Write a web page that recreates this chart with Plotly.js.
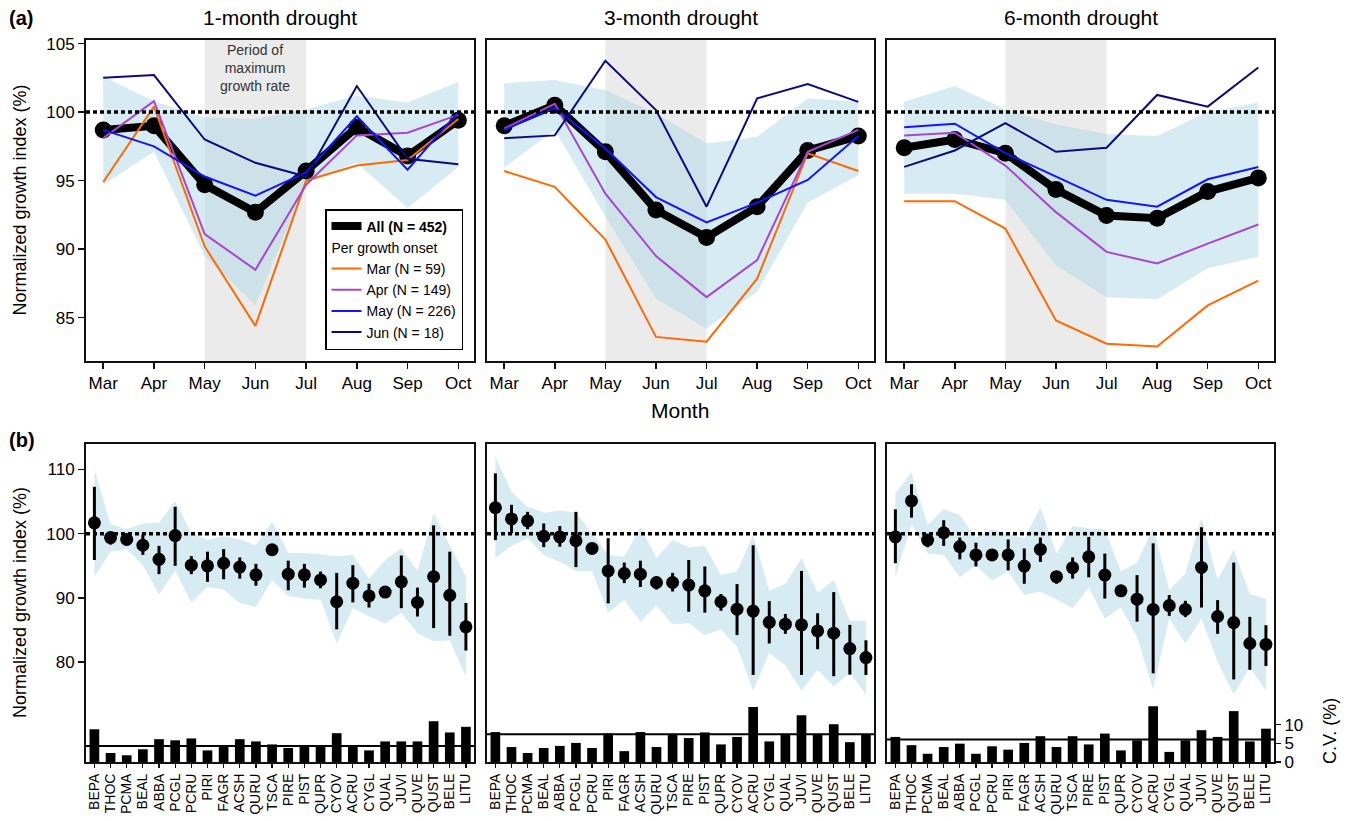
<!DOCTYPE html>
<html>
<head>
<meta charset="utf-8">
<script src="https://cdn.plot.ly/plotly-3.0.1.min.js"></script>
<style>html,body{margin:0;padding:0;background:#fff;}#chart{width:1349px;height:821px;}</style>
</head>
<body>
<div id="chart"></div>
<script>
// ---------- DATA ----------
const months = ['Mar','Apr','May','Jun','Jul','Aug','Sep','Oct'];
const panelTitles = ['1-month drought','3-month drought','6-month drought'];
const onsetNames = ['Mar (N = 59)','Apr (N = 149)','May (N = 226)','Jun (N = 18)'];
const allName = 'All (N = 452)';
const maxGrowthStart = 'May';
const maxGrowthEnd = 'Jul';
const periodText = 'Period of<br>maximum<br>growth rate';

// (a) 1-month drought
const a1_all = [98.7, 99.0, 94.7, 92.7, 95.7, 98.9, 96.8, 99.4];
const a1_mar = [94.9, 100.4, 90.2, 84.4, 95.0, 96.1, 96.5, 99.5];
const a1_apr = [98.1, 100.8, 91.1, 88.5, 94.7, 98.3, 98.5, 99.8];
const a1_may = [98.7, 97.5, 95.3, 93.9, 95.6, 99.7, 95.8, 100.0];
const a1_jun = [102.5, 102.7, 98.0, 96.3, 95.3, 101.9, 96.6, 96.2];
const a1_hi  = [102.6, 100.8, 99.6, 99.5, 100.2, 101.2, 100.7, 102.2];
const a1_lo  = [94.7, 97.1, 89.5, 85.9, 94.8, 96.3, 93.0, 96.0];

// (a) 3-month drought
const a2_all = [99.0, 100.5, 97.1, 92.85, 90.85, 93.1, 97.2, 98.25];
const a2_mar = [95.7, 94.55, 90.7, 83.6, 83.25, 87.85, 97.0, 95.7];
const a2_apr = [98.8, 100.6, 94.05, 89.5, 86.5, 89.2, 97.1, 98.7];
const a2_may = [98.7, 100.3, 97.35, 93.8, 91.95, 93.4, 95.05, 98.25];
const a2_jun = [98.1, 98.3, 103.75, 100.15, 93.1, 101.0, 102.05, 100.75];
const a2_hi  = [102.1, 102.35, 101.6, 99.9, 97.7, 98.2, 101.0, 100.75];
const a2_lo  = [95.95, 98.7, 92.4, 86.4, 84.2, 86.9, 93.4, 95.4];

// (a) 6-month drought
const a3_all = [97.4, 98.0, 97.0, 94.35, 92.45, 92.25, 94.2, 95.2];
const a3_mar = [93.5, 93.5, 91.5, 84.8, 83.1, 82.9, 85.9, 87.7];
const a3_apr = [98.3, 98.5, 96.1, 92.7, 89.8, 88.95, 90.4, 91.8];
const a3_may = [98.9, 99.15, 97.0, 95.3, 93.6, 93.1, 95.1, 96.0];
const a3_jun = [96.0, 97.2, 99.2, 97.1, 97.4, 101.25, 100.4, 103.25];
const a3_hi  = [100.75, 101.9, 100.2, 99.1, 98.4, 98.25, 100.0, 100.7];
const a3_lo  = [94.05, 94.05, 93.6, 88.8, 86.5, 86.35, 88.6, 89.45];

// (b) species
const species = ['BEPA','THOC','PCMA','BEAL','ABBA','PCGL','PCRU','PIRI','FAGR','ACSH','QURU','TSCA',
                 'PIRE','PIST','QUPR','CYOV','ACRU','CYGL','QUAL','JUVI','QUVE','QUST','BELE','LITU'];

const b1_mean   = [101.7, 99.4, 99.1, 98.2, 96.0, 99.7, 95.1, 95.0, 95.4, 94.8, 93.6, 97.5, 93.7, 93.6, 92.8, 89.4, 92.3, 90.3, 90.9, 92.5, 89.3, 93.3, 90.4, 85.5];
const b1_ciHi   = [107.3, 100.2, 99.8, 99.9, 98.1, 104.2, 96.5, 97.2, 97.6, 96.3, 95.3, 98.0, 95.8, 95.3, 94.1, 93.9, 95.1, 92.2, 91.7, 96.6, 91.6, 101.3, 97.2, 89.2];
const b1_ciLo   = [95.9, 98.3, 98.5, 96.7, 93.7, 95.0, 93.7, 92.5, 92.9, 93.0, 91.9, 96.8, 91.2, 91.6, 91.5, 85.1, 89.3, 88.5, 90.1, 88.4, 87.1, 85.3, 84.1, 81.8];
const b1_bandHi = [110.0, 101.5, 100.7, 101.6, 101.7, 105.1, 100.1, 99.0, 99.6, 99.1, 98.2, 101.9, 97.0, 97.0, 96.8, 96.5, 96.7, 93.0, 95.9, 97.7, 94.2, 103.2, 98.2, 93.3];
const b1_bandLo = [93.3, 97.2, 97.6, 95.1, 90.5, 94.3, 89.3, 91.7, 91.3, 89.2, 88.6, 92.8, 90.3, 89.9, 89.7, 82.9, 88.4, 87.1, 86.0, 87.7, 84.5, 83.2, 83.4, 77.7];
const b1_cv     = [8.75, 2.4, 1.8, 3.4, 6.1, 5.8, 6.3, 3.1, 4.0, 6.1, 5.5, 4.7, 3.75, 4.0, 4.5, 7.7, 4.2, 3.1, 5.5, 5.5, 5.5, 10.9, 7.9, 9.4];
const b1_cvMean = 4.3;

const b2_mean   = [104.05, 102.3, 102.0, 99.6, 99.5, 98.9, 97.7, 94.2, 93.8, 93.7, 92.4, 92.4, 92.0, 91.1, 89.4, 88.25, 87.95, 86.2, 85.9, 85.8, 84.85, 84.5, 82.1, 80.7];
const b2_ciHi   = [109.4, 104.5, 103.4, 101.6, 101.2, 103.4, 98.1, 99.3, 95.5, 95.8, 93.3, 93.9, 95.9, 94.9, 90.6, 92.15, 98.2, 89.5, 87.5, 94.2, 87.6, 90.9, 85.8, 83.4];
const b2_ciLo   = [99.0, 100.05, 100.7, 97.9, 97.97, 94.8, 97.3, 89.15, 92.3, 91.7, 91.3, 91.0, 87.85, 87.7, 88.0, 84.2, 78.0, 82.9, 84.4, 78.0, 82.0, 77.8, 78.05, 78.0];
const b2_bandHi = [112.0, 106.5, 104.2, 103.3, 103.6, 103.3, 100.05, 96.7, 96.4, 101.0, 96.2, 99.0, 97.9, 98.1, 93.6, 94.1, 99.8, 91.1, 92.2, 96.2, 90.8, 92.8, 86.45, 86.45];
const b2_bandLo = [96.2, 98.1, 99.3, 96.7, 95.6, 94.2, 94.2, 87.7, 89.7, 86.3, 88.8, 85.9, 86.1, 84.2, 85.1, 82.4, 75.55, 81.4, 79.5, 75.55, 78.8, 76.2, 78.35, 74.9];
const b2_cv     = [8.0, 4.0, 2.4, 3.75, 4.3, 5.1, 3.75, 7.6, 2.9, 8.0, 4.0, 7.5, 6.4, 7.9, 4.7, 6.7, 14.7, 5.5, 7.5, 12.5, 7.5, 10.1, 5.3, 7.5];
const b2_cvMean = 7.4;

const b3_mean   = [99.5, 105.1, 99.0, 100.15, 98.0, 96.7, 96.7, 96.7, 94.95, 97.55, 93.3, 94.7, 96.4, 93.55, 91.1, 89.8, 88.2, 88.8, 88.2, 94.75, 87.1, 86.15, 82.9, 82.75];
const b3_ciHi   = [103.8, 107.7, 99.8, 102.1, 99.4, 98.6, 97.2, 99.1, 97.7, 99.4, 93.9, 96.3, 99.5, 96.9, 91.7, 93.55, 98.5, 90.45, 89.55, 101.0, 89.65, 95.5, 87.05, 85.75];
const b3_ciLo   = [95.4, 102.5, 97.9, 98.1, 96.0, 94.9, 96.2, 94.3, 92.2, 95.6, 92.2, 93.0, 93.2, 89.9, 90.6, 86.3, 78.25, 87.2, 87.0, 88.5, 84.4, 77.3, 78.8, 79.4];
const b3_bandHi = [106.3, 109.5, 101.35, 103.8, 102.9, 99.4, 100.7, 100.05, 99.3, 104.1, 96.9, 101.2, 100.8, 100.7, 94.1, 95.5, 101.0, 91.2, 93.8, 102.5, 92.8, 97.5, 90.6, 89.8];
const b3_bandLo = [93.2, 101.6, 96.9, 96.7, 93.2, 95.1, 92.7, 94.1, 90.45, 91.0, 89.8, 88.4, 91.6, 86.8, 88.5, 84.0, 75.75, 86.8, 82.9, 86.8, 80.05, 75.0, 79.2, 75.55];
const b3_cv     = [6.7, 4.5, 2.2, 4.0, 4.9, 2.2, 4.2, 3.3, 5.1, 6.9, 4.0, 6.9, 4.7, 7.6, 3.1, 5.8, 14.9, 2.7, 5.8, 8.5, 6.7, 13.6, 5.5, 8.9];
const b3_cvMean = 6.0;

const refLevel = 100;

// ---------- STYLE ----------
const FONT = 'Liberation Sans, Arial, Helvetica, sans-serif';
const W = 1349, H = 821;
const colOnset = ['#ff6a00', '#a846d2', '#1414ff', '#0b0b80'];
const bandFill = 'rgba(173,216,230,0.5)';
const fx = p => p / W;
const fy = p => 1 - p / H;
const colsPx = [[86, 474], [487, 874], [887, 1274]];
const aPx = [40, 361];
const bPx = [444, 762];

const aSets = [
  {all: a1_all, lines: [a1_mar, a1_apr, a1_may, a1_jun], hi: a1_hi, lo: a1_lo},
  {all: a2_all, lines: [a2_mar, a2_apr, a2_may, a2_jun], hi: a2_hi, lo: a2_lo},
  {all: a3_all, lines: [a3_mar, a3_apr, a3_may, a3_jun], hi: a3_hi, lo: a3_lo}
];
const bSets = [
  {mean: b1_mean, hi: b1_ciHi, lo: b1_ciLo, bHi: b1_bandHi, bLo: b1_bandLo, cv: b1_cv, cvMean: b1_cvMean},
  {mean: b2_mean, hi: b2_ciHi, lo: b2_ciLo, bHi: b2_bandHi, bLo: b2_bandLo, cv: b2_cv, cvMean: b2_cvMean},
  {mean: b3_mean, hi: b3_ciHi, lo: b3_ciLo, bHi: b3_bandHi, bLo: b3_bandLo, cv: b3_cv, cvMean: b3_cvMean}
];

const traces = [];
const shapes = [];
const layout = {
  width: W, height: H,
  margin: {l: 0, r: 0, t: 0, b: 0},
  paper_bgcolor: '#fff', plot_bgcolor: 'rgba(0,0,0,0)',
  font: {family: FONT, color: '#000', size: 15},
  showlegend: true,
  legend: {
    x: fx(463), xanchor: 'right', y: fy(350), yanchor: 'bottom',
    bgcolor: '#fff', bordercolor: '#000', borderwidth: 1.5,
    font: {family: FONT, size: 14, color: '#000'},
    tracegroupgap: 0, itemwidth: 30, traceorder: 'grouped'
  },
  annotations: []
};

const frameLine = {showline: true, mirror: true, linecolor: '#111', linewidth: 2};

// ----- panel (a) -----
aSets.forEach((s, i) => {
  const n = i + 1;
  const xid = n === 1 ? 'x' : 'x' + n;
  const yid = n === 1 ? 'y' : 'y' + n;
  const xk = n === 1 ? 'xaxis' : 'xaxis' + n;
  const yk = n === 1 ? 'yaxis' : 'yaxis' + n;
  layout[xk] = Object.assign({
    domain: [fx(colsPx[i][0]), fx(colsPx[i][1])], anchor: yid,
    type: 'category', categoryorder: 'array', categoryarray: months,
    tickmode: 'array', tickvals: months,
    range: [-0.34, 7.31], ticks: 'outside', ticklen: 6, tickwidth: 1.5, tickcolor: '#111',
    tickfont: {size: 17}, showgrid: false, zeroline: false, fixedrange: true
  }, frameLine);
  layout[yk] = Object.assign({
    domain: [fy(aPx[1]), fy(aPx[0])], anchor: xid,
    range: [81.84, 105.26], tickvals: [85, 90, 95, 100, 105],
    ticks: n === 1 ? 'outside' : '', ticklen: 6, tickwidth: 1.5, tickcolor: '#111',
    showticklabels: n === 1, tickfont: {size: 17},
    showgrid: false, zeroline: false, fixedrange: true
  }, frameLine);

  // period of maximum growth rate
  shapes.push({type: 'rect', xref: xid, yref: yid + ' domain',
    x0: months.indexOf(maxGrowthStart), x1: months.indexOf(maxGrowthEnd), y0: 0, y1: 1,
    fillcolor: '#ebebeb', line: {width: 0}, layer: 'below'});
  shapes.push({type: 'line', xref: xid + ' domain', yref: yid, x0: 0, x1: 1, y0: refLevel, y1: refLevel,
    line: {color: '#000', width: 3.5, dash: '4px,3px'}, layer: 'above'});

  traces.push({x: months, y: s.hi, xaxis: xid, yaxis: yid, mode: 'lines', line: {width: 0},
    showlegend: false, hoverinfo: 'skip'});
  traces.push({x: months, y: s.lo, xaxis: xid, yaxis: yid, mode: 'lines', line: {width: 0},
    fill: 'tonexty', fillcolor: bandFill, showlegend: false, hoverinfo: 'skip'});
  traces.push({x: months, y: s.all, xaxis: xid, yaxis: yid, mode: 'lines',
    line: {color: '#000', width: 8}, name: '<b>' + allName + '</b>',
    showlegend: n === 1, legendrank: 1});
  traces.push({x: months, y: s.all, xaxis: xid, yaxis: yid, mode: 'markers',
    marker: {color: '#000', size: 17}, showlegend: false});
  s.lines.forEach((arr, k) => {
    traces.push({x: months, y: arr, xaxis: xid, yaxis: yid, mode: 'lines',
      line: {color: colOnset[k], width: 2}, name: onsetNames[k],
      legendgroup: 'onset', legendgrouptitle: {text: 'Per growth onset', font: {size: 14}},
      showlegend: n === 1, legendrank: 2 + k});
  });

  layout.annotations.push({xref: 'paper', yref: 'paper', x: (fx(colsPx[i][0]) + fx(colsPx[i][1])) / 2,
    y: fy(18), text: panelTitles[i], showarrow: false, font: {size: 21}, xanchor: 'center', yanchor: 'middle'});
});

// ----- panel (b) -----
bSets.forEach((s, i) => {
  const n = i + 4;
  const xid = 'x' + n, yid = 'y' + n;
  const cvN = n + 3, cvid = 'y' + cvN;
  layout['xaxis' + n] = Object.assign({
    domain: [fx(colsPx[i][0]), fx(colsPx[i][1])], anchor: yid,
    type: 'category', categoryorder: 'array', categoryarray: species,
    tickmode: 'array', tickvals: species, ticktext: species,
    range: [-0.52, 23.5], ticks: 'outside', ticklen: 4, tickwidth: 1.2, tickcolor: '#111',
    tickangle: -90, tickfont: {size: 14}, showgrid: false, zeroline: false, fixedrange: true
  }, frameLine);
  layout['yaxis' + n] = Object.assign({
    domain: [fy(bPx[1]), fy(bPx[0])], anchor: xid,
    range: [64.44, 113.97], tickvals: [80, 90, 100, 110],
    ticks: i === 0 ? 'outside' : '', ticklen: 6, tickwidth: 1.5, tickcolor: '#111',
    showticklabels: i === 0, tickfont: {size: 17},
    showgrid: false, zeroline: false, fixedrange: true
  }, frameLine);
  layout['yaxis' + cvN] = {
    overlaying: yid, anchor: xid, side: 'right', range: [0, 85],
    tickvals: [0, 5, 10], ticks: i === 2 ? 'outside' : '', ticklen: 6, tickwidth: 1.5, tickcolor: '#111',
    showticklabels: i === 2, tickfont: {size: 17},
    showline: false, showgrid: false, zeroline: false, fixedrange: true
  };

  shapes.push({type: 'line', xref: xid + ' domain', yref: yid, x0: 0, x1: 1, y0: refLevel, y1: refLevel,
    line: {color: '#000', width: 3.5, dash: '4px,3px'}, layer: 'above'});
  shapes.push({type: 'line', xref: xid + ' domain', yref: cvid, x0: 0, x1: 1, y0: s.cvMean, y1: s.cvMean,
    line: {color: '#000', width: 2}, layer: 'above'});

  traces.push({x: species, y: s.bHi, xaxis: xid, yaxis: yid, mode: 'lines', line: {width: 0},
    showlegend: false, hoverinfo: 'skip'});
  traces.push({x: species, y: s.bLo, xaxis: xid, yaxis: yid, mode: 'lines', line: {width: 0},
    fill: 'tonexty', fillcolor: bandFill, showlegend: false, hoverinfo: 'skip'});
  traces.push({x: species, y: s.mean, xaxis: xid, yaxis: yid, mode: 'markers',
    marker: {color: '#000', size: 13},
    error_y: {type: 'data', symmetric: false,
      array: s.hi.map((v, k) => v - s.mean[k]),
      arrayminus: s.lo.map((v, k) => s.mean[k] - v),
      thickness: 3, width: 0, color: '#000'},
    showlegend: false});
  traces.push({type: 'bar', x: species, y: s.cv, xaxis: xid, yaxis: cvid,
    marker: {color: '#000', line: {width: 0}}, width: 0.6, showlegend: false});
});

// ----- text annotations -----
layout.annotations.push(
  {xref: 'paper', yref: 'paper', x: fx(7), y: fy(18), text: '<b>(a)</b>', showarrow: false,
   font: {size: 20}, xanchor: 'left', yanchor: 'middle'},
  {xref: 'paper', yref: 'paper', x: fx(7), y: fy(440), text: '<b>(b)</b>', showarrow: false,
   font: {size: 20}, xanchor: 'left', yanchor: 'middle'},
  {xref: 'paper', yref: 'paper', x: fx(680), y: fy(410), text: 'Month', showarrow: false,
   font: {size: 21}, xanchor: 'center', yanchor: 'middle'},
  {xref: 'paper', yref: 'paper', x: fx(20), y: fy((aPx[0] + aPx[1]) / 2), text: 'Normalized growth index (%)',
   showarrow: false, textangle: -90, font: {size: 18}, xanchor: 'center', yanchor: 'middle'},
  {xref: 'paper', yref: 'paper', x: fx(20), y: fy((bPx[0] + bPx[1]) / 2), text: 'Normalized growth index (%)',
   showarrow: false, textangle: -90, font: {size: 18}, xanchor: 'center', yanchor: 'middle'},
  {xref: 'paper', yref: 'paper', x: fx(1330), y: fy(731), text: 'C.V. (%)',
   showarrow: false, textangle: -90, font: {size: 18}, xanchor: 'center', yanchor: 'middle'},
  {xref: 'x', yref: 'paper', x: 'Jun', y: fy(68), text: periodText,
   showarrow: false, font: {size: 14, color: '#333'}, xanchor: 'center', yanchor: 'middle'}
);
layout.shapes = shapes;

Plotly.newPlot('chart', traces, layout, {staticPlot: true, displayModeBar: false});
</script>
</body>
</html>
